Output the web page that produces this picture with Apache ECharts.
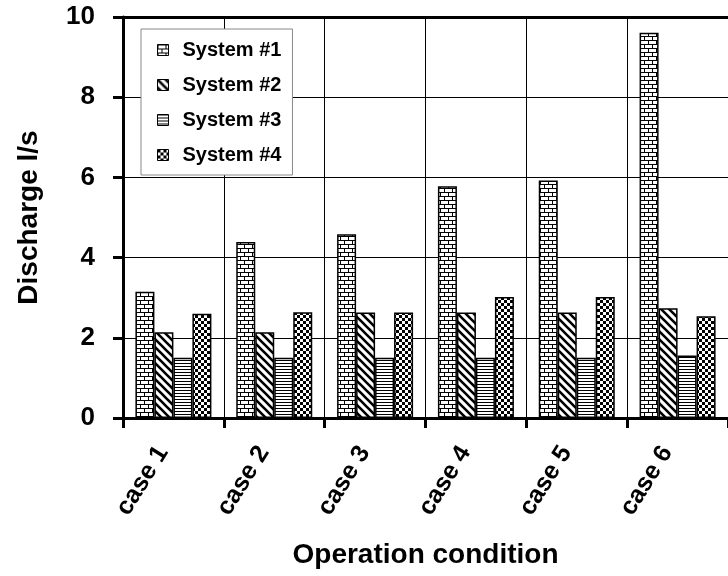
<!DOCTYPE html>
<html>
<head>
<meta charset="utf-8">
<script src="https://cdn.jsdelivr.net/npm/echarts@6/dist/echarts.min.js"></script>
<style>
  html, body { margin: 0; padding: 0; background: #fff; }
  #chart { width: 728px; height: 576px; }
</style>
</head>
<body>
<div id="chart"></div>
<script>
var categories = ['case 1', 'case 2', 'case 3', 'case 4', 'case 5', 'case 6'];
var system1 = [3.15, 4.39, 4.58, 5.78, 5.92, 9.61];
var system2 = [2.14, 2.14, 2.63, 2.63, 2.63, 2.74];
var system3 = [1.50, 1.50, 1.50, 1.50, 1.50, 1.56];
var system4 = [2.60, 2.64, 2.63, 3.02, 3.02, 2.54];
var seriesNames = ['System #1', 'System #2', 'System #3', 'System #4'];

// small hatch tiles drawn on canvases
function tile(w, h, draw) {
    var c = document.createElement('canvas');
    c.width = w; c.height = h;
    var ctx = c.getContext('2d');
    ctx.fillStyle = '#fff';
    ctx.fillRect(0, 0, w, h);
    ctx.fillStyle = '#000';
    ctx.strokeStyle = '#000';
    draw(ctx);
    return c;
}

var brick = tile(8, 8, function(ctx){
    ctx.fillRect(0, 0, 8, 1);
    ctx.fillRect(0, 4, 8, 1);
    ctx.fillRect(0, 0, 1, 4);
    ctx.fillRect(4, 4, 1, 4);
});
var diag = tile(8, 8, function(ctx){
    ctx.lineWidth = 2.6;
    ctx.beginPath();
    ctx.moveTo(-2, -2); ctx.lineTo(10, 10);
    ctx.moveTo(-10, -2); ctx.lineTo(2, 10);
    ctx.moveTo(6, -2); ctx.lineTo(18, 10);
    ctx.stroke();
});
var hlines = tile(4, 3, function(ctx){
    ctx.fillRect(0, 0, 4, 1);
});
var checker = tile(6, 6, function(ctx){
    ctx.fillRect(0, 0, 3, 3);
    ctx.fillRect(3, 3, 3, 3);
});
var patterns = [brick, diag, hlines, checker];
var datas = [system1, system2, system3, system4];

var myChart = echarts.init(document.getElementById('chart'));

var font = 'Liberation Sans, Arial, sans-serif';

var option = {
    backgroundColor: '#fff',
    animation: false,
    textStyle: { fontFamily: font },
    legend: {
        orient: 'vertical',
        left: 141,
        top: 29,
        padding: [11, 11, 10, 16],
        itemGap: 15,
        itemWidth: 11,
        itemHeight: 11,
        icon: 'rect',
        backgroundColor: '#fff',
        borderColor: '#888',
        borderWidth: 1,
        borderRadius: 0,
        textStyle: { fontFamily: font, fontWeight: 'bold', fontSize: 20, color: '#000', padding: [0, 0, 0, 9] },
        itemStyle: { borderColor: '#000', borderWidth: 1 },
        data: seriesNames
    },
    grid: { left: 123, top: 17, right: -5, bottom: 158, containLabel: false },
    xAxis: [{
        type: 'category',
        data: categories,
        position: 'bottom',
        name: 'Operation condition',
        nameLocation: 'middle',
        nameGap: 123,
        nameTextStyle: { fontFamily: font, fontWeight: 'bold', fontSize: 28, color: '#000' },
        axisLine: { lineStyle: { color: '#000', width: 3 } },
        axisTick: { show: true, length: 10, lineStyle: { color: '#000', width: 3 } },
        axisLabel: { rotate: 58, margin: 37, verticalAlign: 'bottom', fontFamily: font, fontWeight: 'bold', fontSize: 25, color: '#000' },
        splitLine: { show: true, lineStyle: { color: '#000', width: 1 } }
    }, {
        type: 'category',
        data: categories,
        position: 'top',
        axisLine: { lineStyle: { color: '#000', width: 3 } },
        axisTick: { show: false },
        axisLabel: { show: false },
        splitLine: { show: false }
    }],
    yAxis: {
        type: 'value',
        min: 0,
        max: 10,
        interval: 2,
        name: 'Discharge l/s',
        nameLocation: 'middle',
        nameGap: 80,
        nameTextStyle: { fontFamily: font, fontWeight: 'bold', fontSize: 28, color: '#000' },
        axisLine: { show: true, lineStyle: { color: '#000', width: 3 } },
        axisTick: { show: true, length: 10, lineStyle: { color: '#000', width: 3 } },
        axisLabel: { margin: 28, fontFamily: font, fontWeight: 'bold', fontSize: 26, color: '#000' },
        splitLine: { show: true, lineStyle: { color: '#000', width: 1 } }
    },
    series: []
};

for (var i = 0; i < seriesNames.length; i++) {
    option.series.push({
        name: seriesNames[i],
        type: 'bar',
        xAxisIndex: 0,
        data: datas[i],
        barWidth: 19,
        barGap: '0%',
        itemStyle: {
            color: { image: patterns[i], repeat: 'repeat' },
            borderColor: '#000',
            borderWidth: 1.5
        }
    });
}

myChart.setOption(option);
</script>
</body>
</html>
